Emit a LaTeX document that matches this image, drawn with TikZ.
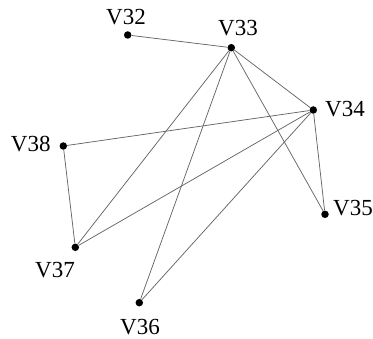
\documentclass[tikz,border=0pt]{standalone}
\usepackage{fontspec}
\setmainfont{Liberation Serif}
\begin{document}
\begin{tikzpicture}[x=1pt,y=-1pt,
  vdot/.style={circle,fill=black,inner sep=0pt,minimum size=7.5pt},
  vlab/.style={inner sep=0pt,font=\fontsize{23}{25}\selectfont},
  edge/.style={draw=black!60,line width=0.75pt}]
\useasboundingbox (0,0) rectangle (373,339);
\node[vdot] (v32) at (127.7,35) {};
\node[vdot] (v33) at (231.3,47.7) {};
\node[vdot] (v34) at (313.3,110) {};
\node[vdot] (v35) at (325,214.3) {};
\node[vdot] (v38) at (63.3,146) {};
\node[vdot] (v37) at (75.3,247.3) {};
\node[vdot] (v36) at (139.3,302.7) {};
\node[vlab] (l32) at (126,17) {V32};
\node[vlab] (l33) at (238,28) {V33};
\node[vlab] (l34) at (345,109) {V34};
\node[vlab] (l35) at (353,208) {V35};
\node[vlab] (l38) at (30.7,144) {V38};
\node[vlab] (l37) at (55,270) {V37};
\node[vlab] (l36) at (140,326.7) {V36};
\draw[edge] (v32) -- (v33);
\draw[edge] (v33) -- (v34);
\draw[edge] (v33) -- (v35);
\draw[edge] (v33) -- (v37);
\draw[edge] (v33) -- (v36);
\draw[edge] (v34) -- (v38);
\draw[edge] (v34) -- (v37);
\draw[edge] (v34) -- (v36);
\draw[edge] (v34) -- (v35);
\draw[edge] (v38) -- (v37);
\end{tikzpicture}
\end{document}
